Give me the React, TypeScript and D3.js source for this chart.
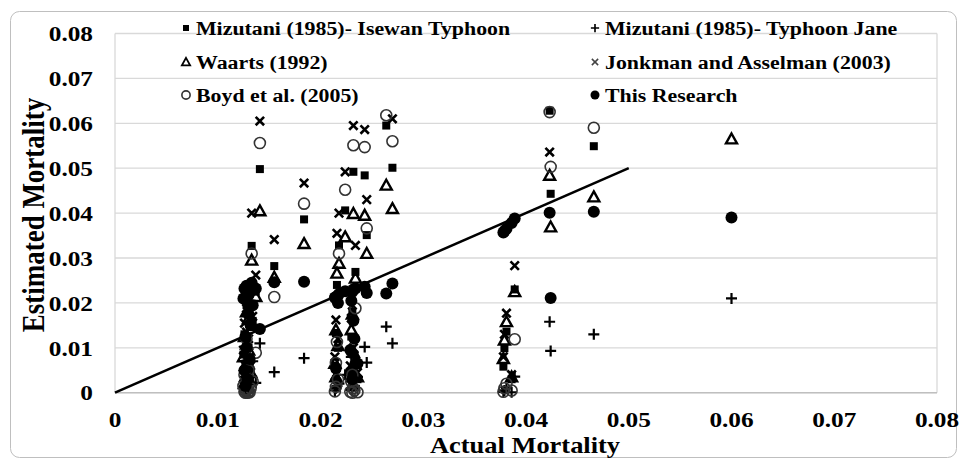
import React from 'react';
import * as d3 from 'd3';

// Actual mortality of each event (x) and the estimate of each model (y)
const actualMortality = [
  0.0141, 0.0133, 0.0137, 0.0128, 0.0126, 0.0130, 0.0127, 0.0131, 0.0129, 0.0134,
  0.0125, 0.0132, 0.0128, 0.0126, 0.0130, 0.0127,
  0.0155, 0.0184,
  0.0264, 0.0270, 0.0232, 0.0243, 0.0245, 0.0224, 0.0218, 0.0216, 0.0234, 0.0215,
  0.0230, 0.0232, 0.0229, 0.0215, 0.0231,
  0.0233, 0.0217, 0.0236, 0.0231, 0.0214,
  0.0389, 0.0381, 0.0379, 0.0378, 0.0386,
  0.0423, 0.0424, 0.0466, 0.0600,
];
const mizutaniIsewan: (number | null)[] = [
  0.0498, 0.0327, 0.0225, 0.0195, 0.0130, 0.0100, 0.0065, 0.0030, 0.0015, 0.0160,
  0.0085, 0.0050, 0.0112, 0.0022, 0.0175, 0.0040,
  0.0282, 0.0386,
  0.0595, 0.0501, 0.0492, 0.0484, 0.0351, 0.0406, 0.0328, 0.0240, 0.0269, 0.0133,
  0.0125, 0.0085, 0.0045, 0.0030, 0.0015,
  0.0060, 0.0100, 0.0030, 0.0180, 0.0060,
  0.0230, 0.0136, 0.0099, 0.0058, 0.0030,
  0.0628, 0.0443, 0.0549, null,
];
const mizutaniJane: (number | null)[] = [
  0.0110, 0.0036, 0.0022, 0.0015, 0.0008, 0.0005, 0.0003, 0.0002, 0.0001, 0.0070,
  0.0012, 0.0020, 0.0004, 0.0002, 0.0010, 0.0006,
  0.0046, 0.0077,
  0.0147, 0.0110, 0.0090, 0.0102, 0.0067, 0.0040, 0.0020, 0.0015, 0.0060, 0.0030,
  0.0080, 0.0045, 0.0025, 0.0010, 0.0005,
  0.0015, 0.0022, 0.0035, 0.0055, 0.0005,
  0.0036, 0.0010, 0.0005, 0.0002, 0.0001,
  0.0158, 0.0093, 0.0130, 0.0210,
];
const waarts: (number | null)[] = [
  0.0405, 0.0295, 0.0214, 0.0180, 0.0125, 0.0095, 0.0060, 0.0028, 0.0014, 0.0150,
  0.0080, 0.0045, 0.0108, 0.0020, 0.0165, 0.0036,
  0.0257, 0.0332,
  0.0462, 0.0410, 0.0399, 0.0395, 0.0310, 0.0347, 0.0288, 0.0266, 0.0255, 0.0140,
  0.0140, 0.0090, 0.0050, 0.0035, 0.0016,
  0.0065, 0.0105, 0.0035, 0.0175, 0.0065,
  0.0225, 0.0158, 0.0117, 0.0076, 0.0035,
  0.0484, 0.0369, 0.0436, 0.0565,
];
const jonkmanAsselman: (number | null)[] = [
  0.0605, 0.0400, 0.0262, 0.0188, 0.0155, 0.0120, 0.0075, 0.0040, 0.0020, 0.0170,
  0.0095, 0.0060, 0.0135, 0.0028, 0.0210, 0.0050,
  0.0341, 0.0467,
  null, 0.0610, 0.0595, 0.0586, 0.0430, 0.0492, 0.0400, 0.0355, 0.0328, 0.0162,
  0.0166, 0.0100, 0.0060, 0.0040, 0.0020,
  0.0075, 0.0120, 0.0045, 0.0195, 0.0080,
  0.0283, 0.0177, 0.0130, 0.0080, 0.0040,
  0.0536, null, null, null,
];
const boyd: (number | null)[] = [
  0.0556, 0.0310, 0.0089, 0.0120, 0.0040, 0.0003, 0.0005, 0.0001, 0.0000, 0.0025,
  0.0015, 0.0010, 0.0008, 0.0002, 0.0050, 0.0000,
  0.0213, 0.0421,
  0.0618, 0.0560, 0.0551, 0.0547, 0.0366, 0.0452, 0.0310, 0.0113, 0.0188, 0.0066,
  0.0025, 0.0010, 0.0002, 0.0013, 0.0000,
  0.0005, 0.0030, 0.0001, 0.0040, 0.0003,
  0.0119, 0.0020, 0.0010, 0.0002, 0.0005,
  0.0625, 0.0503, 0.0590, null,
];
const thisResearch: (number | null)[] = [
  0.0142, 0.0245, 0.0232, 0.0238, 0.0232, 0.0175, 0.0125, 0.0075, 0.0030, 0.0195,
  0.0210, 0.0150, 0.0100, 0.0050, 0.0218, 0.0015,
  0.0246, 0.0247,
  0.0221, 0.0243, 0.0230, 0.0236, 0.0222, 0.0226, 0.0220, 0.0215, 0.0232, 0.0210,
  0.0205, 0.0160, 0.0095, 0.0055, 0.0030,
  0.0120, 0.0200, 0.0065, 0.0225, 0.0212,
  0.0388, 0.0365, 0.0360, 0.0357, 0.0378,
  0.0401, 0.0211, 0.0403, 0.0390,
];

const seriesNames = [
  'Mizutani (1985)- Isewan Typhoon',
  'Mizutani (1985)-  Typhoon Jane',
  'Waarts (1992)',
  'Jonkman and Asselman (2003)',
  'Boyd et al. (2005)',
  'This Research',
];
const seriesMarkers = ['square', 'plus', 'triangle', 'cross', 'circle', 'dot'];
const seriesValues = [mizutaniIsewan, mizutaniJane, waarts, jonkmanAsselman, boyd, thisResearch];

const xTicks = [0, 0.01, 0.02, 0.03, 0.04, 0.05, 0.06, 0.07, 0.08];
const yTicks = [0, 0.01, 0.02, 0.03, 0.04, 0.05, 0.06, 0.07, 0.08];
const xTickLabels = ['0', '0.01', '0.02', '0.03', '0.04', '0.05', '0.06', '0.07', '0.08'];
const yTickLabels = ['0', '0.01', '0.02', '0.03', '0.04', '0.05', '0.06', '0.07', '0.08'];
const refLine = [0, 0.05];

const W = 959;
const H = 459;
const PL = 115;
const PR = 937;
const PT = 33.5;
const PB = 392.7;
const FONT = '"Liberation Serif", "Times New Roman", serif';
const SX = 1.15;

const x = d3.scaleLinear().domain([0, 0.08]).range([PL, PR]);
const y = d3.scaleLinear().domain([0, 0.08]).range([PB, PT]);

function Marker({ type, cx, cy, k = 1 }: { type: string; cx: number; cy: number; k?: number }) {
  if (type === 'square') {
    const s = 8 * k;
    return <rect x={cx - s / 2} y={cy - s / 2} width={s} height={s} fill="#000" />;
  }
  if (type === 'plus') {
    const s = 5.5 * k;
    return (
      <path d={`M${cx - s},${cy}H${cx + s}M${cx},${cy - s}V${cy + s}`} stroke="#000" strokeWidth={2.2 * k} fill="none" />
    );
  }
  if (type === 'triangle') {
    const s = 5.5 * k;
    return (
      <path
        d={`M${cx},${cy - s}L${cx + s},${cy + s * 0.8}L${cx - s},${cy + s * 0.8}Z`}
        stroke="#000"
        strokeWidth={2.4 * k}
        fill="none"
        strokeLinejoin="miter"
      />
    );
  }
  if (type === 'cross') {
    const s = 4.2 * k;
    return (
      <path
        d={`M${cx - s},${cy - s}L${cx + s},${cy + s}M${cx - s},${cy + s}L${cx + s},${cy - s}`}
        stroke={k < 1 ? '#444' : '#000'}
        strokeWidth={(k < 1 ? 1.5 : 2.6)}
        fill="none"
      />
    );
  }
  if (type === 'circle') {
    return <circle cx={cx} cy={cy} r={5.5 * k} stroke="#333" strokeWidth={1.6} fill="none" />;
  }
  return <circle cx={cx} cy={cy} r={6 * k} fill="#000" />;
}

function T({
  tx, ty, size, anchor = 'start', rotate = 0, children,
}: { tx: number; ty: number; size: number; anchor?: string; rotate?: number; children: React.ReactNode }) {
  return (
    <g transform={`translate(${tx},${ty}) scale(${SX},1) rotate(${rotate})`}>
      <text
        x={0}
        y={0}
        dy="0.35em"
        textAnchor={anchor as any}
        fontFamily={FONT}
        fontWeight="bold"
        fontSize={size}
        fill="#000"
      >
        {children}
      </text>
    </g>
  );
}

export default function App() {
  const line = d3.line<number>().x((d) => x(d)).y((d) => y(d));
  const legendCols = [186, 595];
  const legendRows = [28, 62, 95];
  return (
    <svg width={W} height={H} style={{ position: 'absolute', left: 0, top: 0, background: '#fff' }}>
      <rect x={0} y={0} width={W} height={H} fill="#fff" />
      <rect x={10.5} y={11.5} width={946} height={446} rx={9} fill="#fff" stroke="#bfbfbf" strokeWidth={1} />
      {/* gridlines */}
      {yTicks.map((t) => (
        <line key={'g' + t} x1={PL} x2={PR} y1={y(t)} y2={y(t)} stroke="#d9d9d9" strokeWidth={1.3} />
      ))}
      <line x1={PL} x2={PL} y1={PT} y2={PB} stroke="#d9d9d9" strokeWidth={1.3} />
      <line x1={PR} x2={PR} y1={PT} y2={PB} stroke="#d9d9d9" strokeWidth={1.3} />
      <line x1={PL} x2={PR} y1={PB} y2={PB} stroke="#bfbfbf" strokeWidth={1.5} />
      {/* tick labels */}
      {yTicks.map((t, i) => (
        <T key={'yl' + t} tx={93} ty={y(t)} size={22} anchor="end">
          {yTickLabels[i]}
        </T>
      ))}
      {xTicks.map((t, i) => (
        <T key={'xl' + t} tx={x(t)} ty={419} size={22} anchor="middle">
          {xTickLabels[i]}
        </T>
      ))}
      {/* axis titles */}
      <T tx={525} ty={445} size={23} anchor="middle">Actual Mortality</T>
      <T tx={33} ty={215} size={27} anchor="middle" rotate={-90}>Estimated Mortality</T>
      {/* reference line */}
      <path d={line(refLine) || ''} stroke="#000" strokeWidth={2.5} fill="none" />
      {/* series */}
      {seriesValues.map((vals, si) => (
        <g key={'s' + si}>
          {vals.map((v, i) =>
            v === null ? null : (
              <Marker key={i} type={seriesMarkers[si]} cx={x(actualMortality[i])} cy={y(v)} />
            ),
          )}
        </g>
      ))}
      {/* legend */}
      {seriesNames.map((name, i) => {
        const col = i % 2;
        const row = Math.floor(i / 2);
        const mx = legendCols[col];
        const my = legendRows[row];
        return (
          <g key={'lg' + i}>
            <Marker type={seriesMarkers[i]} cx={mx} cy={my} k={0.75} />
            <T tx={mx + 10} ty={my} size={19}>
              {name}
            </T>
          </g>
        );
      })}
    </svg>
  );
}
